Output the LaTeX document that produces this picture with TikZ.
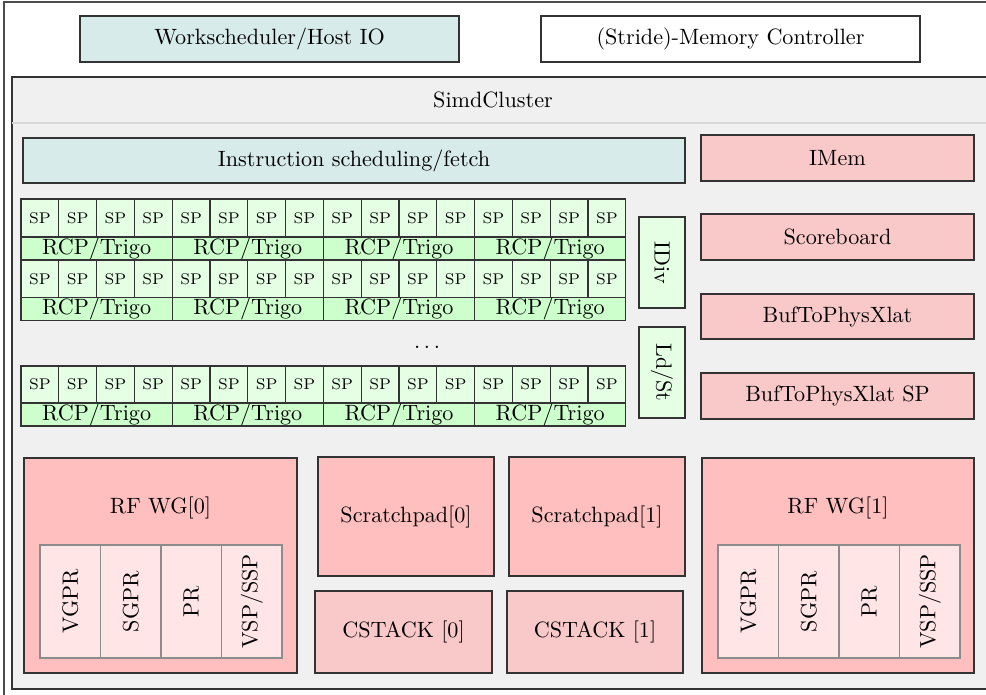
\documentclass[tikz,border=0pt]{standalone}
\definecolor{clusterbg}{HTML}{F0F0F0}
\definecolor{headline}{HTML}{D8D8D8}
\definecolor{ctrlfill}{HTML}{D7EBEA}
\definecolor{memfill}{HTML}{F9C9C9}
\definecolor{rffill}{HTML}{FFBFBF}
\definecolor{regfill}{HTML}{FFE5E5}
\definecolor{spfill}{HTML}{E5FFE5}
\definecolor{rcpfill}{HTML}{CCFFCC}
\begin{document}
\begin{tikzpicture}[x=0.4515pt,y=-0.4515pt]
\def\u{0.4515pt}
\tikzset{
  blk/.style={draw=black!80, line width=0.5pt, rectangle, inner sep=0pt, outer sep=0pt, align=center},
  span/.style n args={4}{minimum width={(#3-#1)*\u}, minimum height={(#4-#2)*\u},
    at={({(#1+#3)/2},{(#2+#4)/2})}},
  vspan/.style n args={5}{minimum width={(#4-#2)*\u}, minimum height={(#3-#1)*\u},
    at={({(#1+#3)/2},{(#2+#4)/2})}, rotate=#5},
  ctrl/.style={blk, fill=ctrlfill},
  mem/.style={blk, fill=memfill},
  rf/.style={blk, fill=rffill},
  reg/.style={blk, draw=black!45, fill=regfill},
  spcell/.style={blk, fill=spfill, font=\scriptsize},
  rcpcell/.style={blk, fill=rcpfill},
  unit/.style={blk, fill=spfill},
}
\useasboundingbox (0,0) rectangle (986,694);
\clip (0,0) rectangle (986,694);

% outer frame and cluster (both run past the right and bottom edges)
\draw[black!70, line width=0.6pt] (4,2) rectangle (1200,800);
\node[blk, fill=clusterbg, span={12}{77}{1200}{689}] (cluster) {};
\draw[headline, line width=0.6pt] (12,123) -- (1200,123);
\node (title) at (493,100) {SimdCluster};

% host side
\node[ctrl, span={80}{16}{459}{62}] (host) {Workscheduler/Host IO};
\node[blk, fill=white, span={541}{16}{920}{62}] (memctl) {(Stride)-Memory Controller};

% front end
\node[ctrl, span={23}{138}{685}{183}] (fetch) {Instruction scheduling/fetch};
\node[mem, span={701}{135}{974}{181}] (imem) {IMem};
\node[mem, span={701}{214}{974}{260}] (score) {Scoreboard};
\node[mem, span={701}{294}{974}{339}] (xlat) {BufToPhysXlat};
\node[mem, span={701}{373}{974}{419}] (xlatsp) {BufToPhysXlat SP};

% integer divide and load/store units
\node[unit, vspan={639}{217}{685}{308}{-90}] (idiv) {IDiv};
\node[unit, vspan={639}{327}{685}{418}{-90}] (ldst) {Ld/St};

% SIMD lanes: rows of 16 SPs with 4 RCP/Trigo units each
\foreach \r/\top/\mid/\bot in {0/199/237/260, 1/260/298/320, 2/366/403/426} {
  \foreach \c in {0,...,15} {
    \pgfmathsetmacro\xa{21+37.8*\c}
    \pgfmathsetmacro\xb{21+37.8*(\c+1)}
    \node[spcell, span={\xa}{\top}{\xb}{\mid}] (sp-\r-\c) {SP};
  }
  \foreach \g in {0,...,3} {
    \pgfmathsetmacro\xa{21+151.2*\g}
    \pgfmathsetmacro\xb{21+151.2*(\g+1)}
    \node[rcpcell, span={\xa}{\mid}{\xb}{\bot}] (rcp-\r-\g) {RCP/Trigo};
  }
}
\node (dots) at (427,347) {.\kern1.67pt.\kern1.67pt.};

% register files
\foreach \k/\xl/\xr in {0/24/297, 1/702/974} {
  \node[rf, span={\xl}{458}{\xr}{673}] (rf-\k) {};
  \node (rflabel-\k) at ({(\xl+\xr)/2},508) {RF WG[\k]};
  \foreach \n/\name in {0/VGPR, 1/SGPR, 2/PR, 3/VSP\slash SSP} {
    \pgfmathsetmacro\xa{\xl+16+60.5*\n}
    \pgfmathsetmacro\xb{\xl+16+60.5*(\n+1)}
    \node[reg, vspan={\xa}{545}{\xb}{658}{90}] (reg-\k-\n) {\name};
  }
}

% scratchpads and call stacks
\node[rf, span={318}{457}{494}{576}] (spad0) {Scratchpad[0]};
\node[rf, span={509}{457}{685}{576}] (spad1) {Scratchpad[1]};
\node[mem, span={315}{591}{492}{673}] (cstack0) {CSTACK [0]};
\node[mem, span={507}{591}{683}{673}] (cstack1) {CSTACK [1]};
\end{tikzpicture}
\end{document}
